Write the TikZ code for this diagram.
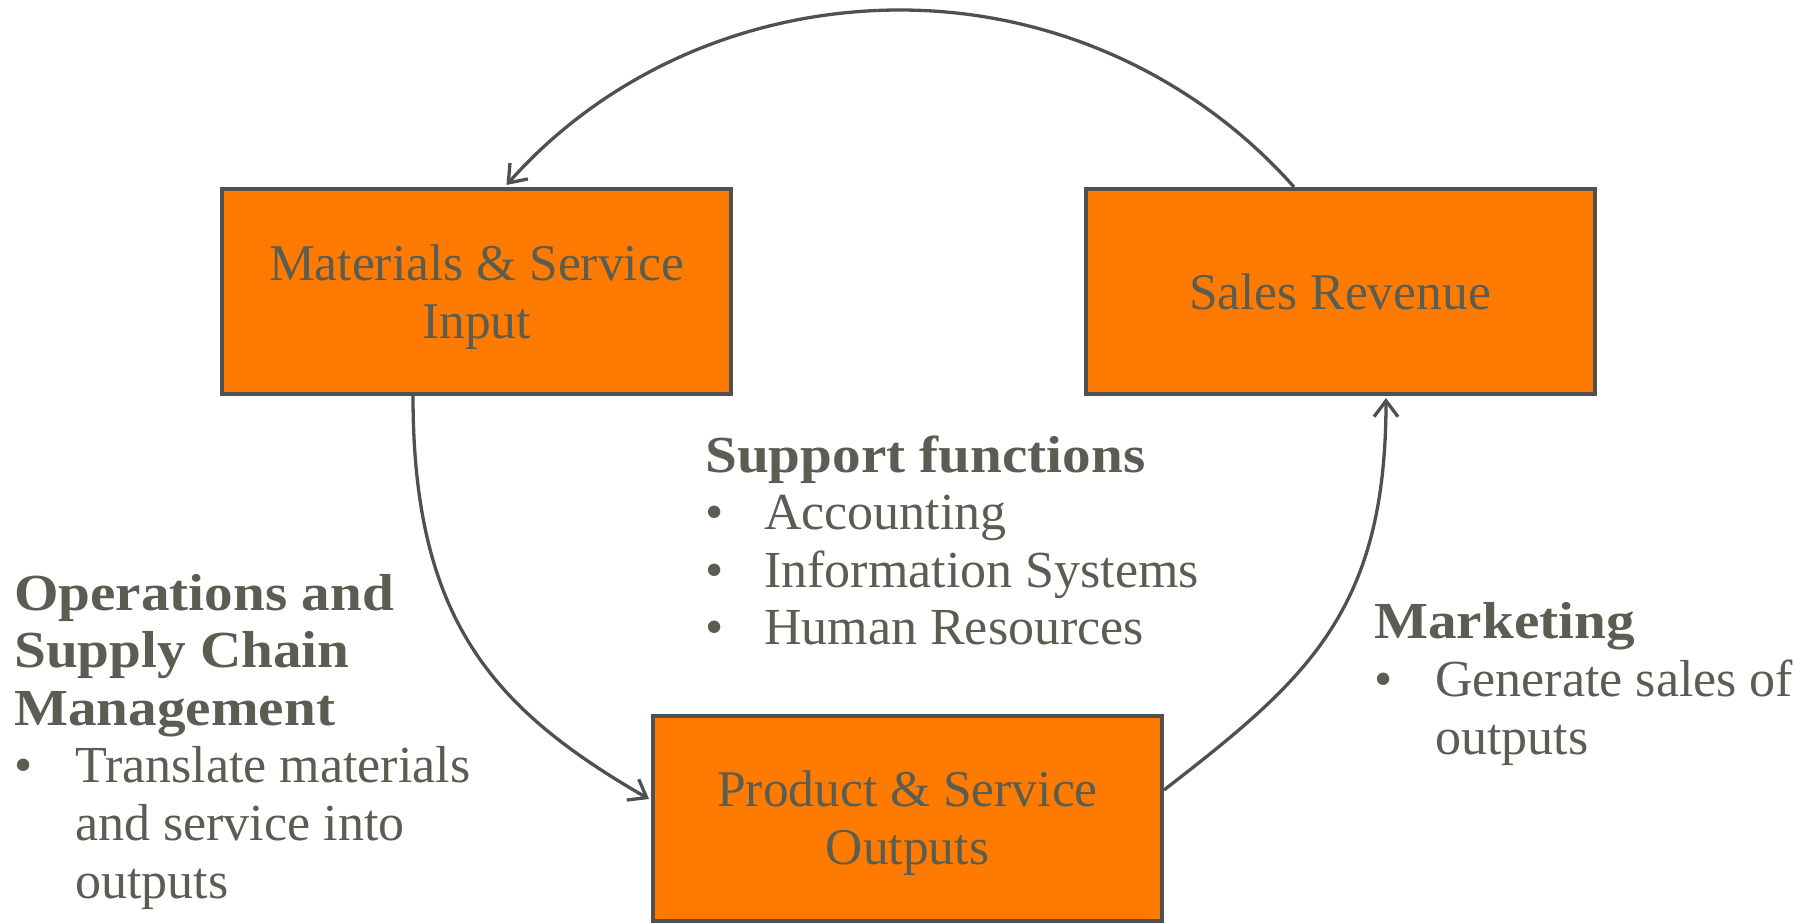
\documentclass[tikz,border=0pt]{standalone}
\usepackage{fontspec}
\setmainfont{Liberation Serif}[BoldFeatures={FakeStretch=1.1}]
\usetikzlibrary{arrows.meta,calc}
\definecolor{boxfill}{RGB}{255,122,0}
\definecolor{edgegray}{RGB}{80,80,80}
\definecolor{txt}{RGB}{90,93,81}
\begin{document}
\begin{tikzpicture}[x=1pt,y=-1pt,
  box/.style={draw=edgegray, line width=4pt, fill=boxfill, minimum width=509pt,
    minimum height=205pt, inner sep=0pt, align=center, text=txt,
    font=\fontsize{51.5}{58}\selectfont},
  twoline/.style={text height=93pt, text depth=0pt},
  flow/.style={draw=edgegray, line width=3.3pt, -{Straight Barb[length=16pt,width=24pt]}},
  blocktext/.style={anchor=base west, inner sep=0pt, align=left, text=txt,
    font=\fontsize{52}{57.6}\selectfont}]
\useasboundingbox (0,0) rectangle (1812,923);

\node[box,twoline] (msi) at (476.5,291.5) {Materials \& Service\\Input};
\node[box] (sr)  at (1340,291.5) {Sales Revenue};
\node[box,twoline] (pso) at (907.5,818) {Product \& Service\\Outputs};

% anchor base = baseline of last line
\node[blocktext] (sup) at (705,644.8)
  {\textbf{Support functions}\\
   \makebox[59pt][l]{\textbullet}Accounting\\
   \makebox[59pt][l]{\textbullet}Information Systems\\
   \makebox[59pt][l]{\textbullet}Human Resources};

\node[blocktext] (ops) at (14,898)
  {\textbf{Operations and}\\
   \textbf{Supply Chain}\\
   \textbf{Management}\\
   \makebox[61pt][l]{\textbullet}Translate materials\\
   \hspace*{61pt}and service into\\
   \hspace*{61pt}outputs};

\node[blocktext] (mkt) at (1374,754)
  {\textbf{Marketing}\\
   \makebox[61pt][l]{\textbullet}Generate sales of\\
   \hspace*{61pt}outputs};

\coordinate (peak) at (900,10);
\draw[flow] ([xshift=-46pt]sr.north) .. controls +(-100,-112.6) and +(150.6,0) .. (peak)
  .. controls +(-150.6,0) and +(100,-112.6) .. ([xshift=30pt,yshift=2pt]msi.north);
\draw[flow] ([xshift=-63.5pt]msi.south) .. controls +(0,224) and +(-156,-90) .. ([xshift=-2pt,yshift=19pt]pso.west);
\draw[flow] ([yshift=28pt]pso.east) .. controls +(142,-110) and +(0,214) .. ([xshift=46pt,yshift=-2pt]sr.south);
\end{tikzpicture}
\end{document}
